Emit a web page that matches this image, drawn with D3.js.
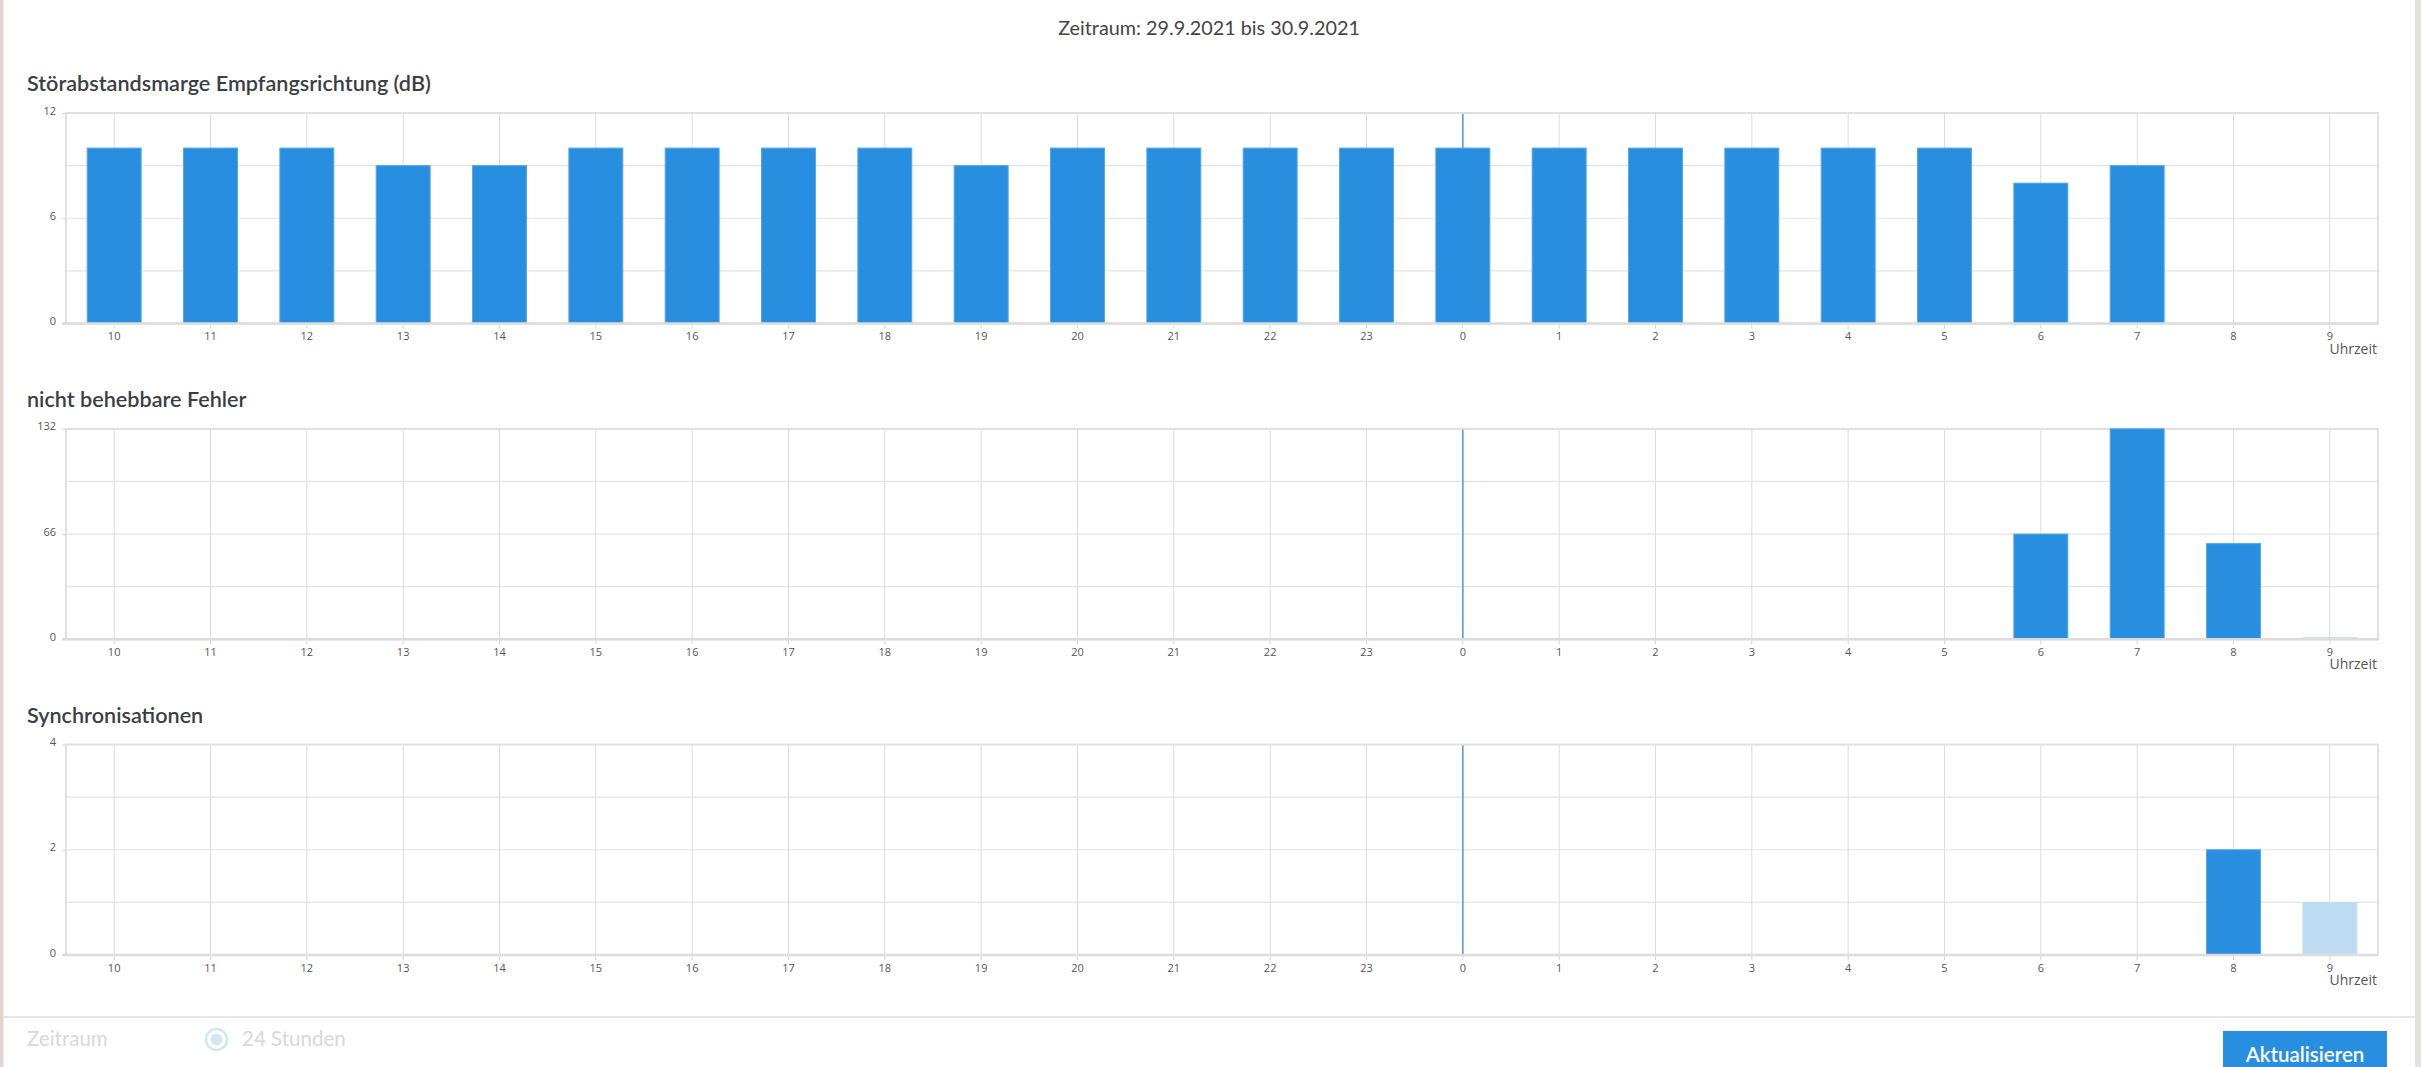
<!DOCTYPE html>
<html>
<head>
<meta charset="utf-8">
<script src="https://cdn.jsdelivr.net/npm/d3@7"></script>
<style>
  html, body { margin: 0; padding: 0; background: #fff; overflow: hidden; }
  svg { display: block; }
  .tick text { font-family: "Open Sans", "Noto Sans", sans-serif; font-size: 11px; fill: #555; }
</style>
</head>
<body>
<svg id="chart" width="2421" height="1067"></svg>
<script>
// ---- data ----
const categories = ["10","11","12","13","14","15","16","17","18","19","20","21","22","23","0","1","2","3","4","5","6","7","8","9"];
const snrValues  = [10,10,10,9,9,10,10,10,10,9,10,10,10,10,10,10,10,10,10,10,8,9,null,null];
const fecValues  = [0,0,0,0,0,0,0,0,0,0,0,0,0,0,0,0,0,0,0,0,66,132,60,1];
const syncValues = [0,0,0,0,0,0,0,0,0,0,0,0,0,0,0,0,0,0,0,0,0,0,2,1];
const snrTicks  = [0, 6, 12];
const fecTicks  = [0, 66, 132];
const syncTicks = [0, 2, 4];
const chartTitles = ["Störabstandsmarge Empfangsrichtung (dB)", "nicht behebbare Fehler", "Synchronisationen"];
const periodTitle = "Zeitraum: 29.9.2021 bis 30.9.2021";
const dayBreak = "0";
const partialHour = "9";
const axisLabel = "Uhrzeit";

const svg = d3.select("#chart");
const W = 2421, H = 1067;
const plotLeft = 66, plotRight = 2378;
const plotH = 210.5;
const tops = [113, 428.8, 744.5];
const titleFont = "Lato, 'Open Sans', sans-serif";

// page side strips
svg.append("rect").attr("x", 0).attr("y", 0).attr("width", 3.5).attr("height", H).attr("fill", "#ddd9cf");
svg.append("rect").attr("x", 2415).attr("y", 0).attr("width", 6).attr("height", H).attr("fill", "#e5e2d9");

svg.append("text").attr("x", 1209).attr("y", 35).attr("text-anchor", "middle")
  .attr("font-family", titleFont).attr("font-size", 19.8).attr("fill", "#444").text(periodTitle);

const x = d3.scaleBand().domain(categories).range([plotLeft, plotRight]).paddingInner(0.44).paddingOuter(0.22);

const datasets = [
  { values: snrValues, ticks: snrTicks },
  { values: fecValues, ticks: fecTicks },
  { values: syncValues, ticks: syncTicks }
];

datasets.forEach((ds, k) => {
  const top = tops[k], bottom = top + plotH;
  const maxV = ds.ticks[ds.ticks.length - 1];
  const y = d3.scaleLinear().domain([0, maxV]).range([bottom, top]);
  const g = svg.append("g");

  g.append("text").attr("x", 27).attr("y", top - 22)
    .attr("font-family", titleFont).attr("font-weight", 600).attr("font-size", 21.6).attr("fill", "#3b3f45")
    .text(chartTitles[k]);

  // horizontal grid (quarters)
  const gridVals = d3.range(0, 5).map(i => maxV * i / 4);
  g.selectAll(".hg").data(gridVals).join("line")
    .attr("x1", plotLeft).attr("x2", plotRight)
    .attr("y1", d => y(d)).attr("y2", d => y(d))
    .attr("stroke", "#e4e4e4").attr("stroke-width", 1.2);

  // vertical grid at category centers
  g.selectAll(".vg").data(categories).join("line")
    .attr("x1", d => x(d) + x.bandwidth() / 2).attr("x2", d => x(d) + x.bandwidth() / 2)
    .attr("y1", top).attr("y2", bottom)
    .attr("stroke", "#dcdcdc").attr("stroke-width", 1);

  // day break marker
  g.append("line")
    .attr("x1", x(dayBreak) + x.bandwidth() / 2).attr("x2", x(dayBreak) + x.bandwidth() / 2)
    .attr("y1", top).attr("y2", bottom)
    .attr("stroke", "#5b97d3").attr("stroke-width", 1.5);

  // frame
  g.append("rect").attr("x", plotLeft).attr("y", top).attr("width", plotRight - plotLeft).attr("height", plotH)
    .attr("fill", "none").attr("stroke", "#e0e0e0").attr("stroke-width", 2);

  // bars
  const rows = categories.map((c, i) => ({ c, v: ds.values[i] })).filter(d => d.v !== null && d.v > 0);
  g.selectAll(".bar").data(rows).join("rect")
    .attr("x", d => x(d.c))
    .attr("width", x.bandwidth())
    .attr("y", d => y(d.v))
    .attr("height", d => Math.max(1, bottom - y(d.v)))
    .attr("fill", d => d.c === partialHour ? "#bddcf4" : "#288ee0")
    .attr("stroke", d => d.c === partialHour ? "#c6e0f6" : "#52a7ec")
    .attr("stroke-width", 1);

  // bottom axis line
  g.append("line").attr("x1", plotLeft - 4).attr("x2", plotRight).attr("y1", bottom).attr("y2", bottom)
    .attr("stroke", "#dcdcdc").attr("stroke-width", 2.5);

  // axes
  const xa = g.append("g").attr("transform", `translate(0,${bottom + 1})`)
    .call(d3.axisBottom(x).tickSize(4).tickPadding(4));
  xa.select(".domain").remove();
  xa.selectAll(".tick line").attr("stroke", "#d6d6d6");

  const ya = g.append("g").attr("transform", `translate(${plotLeft},0)`)
    .call(d3.axisLeft(y).tickValues(ds.ticks).tickFormat(d3.format("d")).tickSize(4).tickPadding(6));
  ya.select(".domain").remove();
  ya.selectAll(".tick line").attr("stroke", "#d6d6d6");
  ya.selectAll(".tick text").attr("dy", "0.1em");

  g.append("text").attr("x", plotRight - 1).attr("y", bottom + 30).attr("text-anchor", "end")
    .attr("font-family", "'Open Sans', sans-serif").attr("font-size", 14).attr("fill", "#555")
    .text(axisLabel);
});

// footer form
svg.append("line").attr("x1", 3.5).attr("x2", 2415).attr("y1", 1017).attr("y2", 1017)
  .attr("stroke", "#dedede").attr("stroke-width", 1.5);
svg.append("text").attr("x", 27).attr("y", 1046).attr("font-family", titleFont).attr("font-size", 20.5)
  .attr("fill", "#d8d8d8").text("Zeitraum");
svg.append("circle").attr("cx", 216.5).attr("cy", 1039.5).attr("r", 10.5)
  .attr("fill", "#fff").attr("stroke", "#d3e6f8").attr("stroke-width", 2.5);
svg.append("circle").attr("cx", 216.5).attr("cy", 1039.5).attr("r", 6)
  .attr("fill", "#d3e6f8");
svg.append("text").attr("x", 242).attr("y", 1046).attr("font-family", titleFont).attr("font-size", 20.5)
  .attr("fill", "#d8d8d8").text("24 Stunden");
svg.append("rect").attr("x", 2223).attr("y", 1031).attr("width", 164).attr("height", 40).attr("fill", "#288ee0");
svg.append("text").attr("x", 2305).attr("y", 1062).attr("text-anchor", "middle")
  .attr("font-family", titleFont).attr("font-weight", 600).attr("font-size", 20.5).attr("fill", "#fff")
  .text("Aktualisieren");
</script>
</body>
</html>
